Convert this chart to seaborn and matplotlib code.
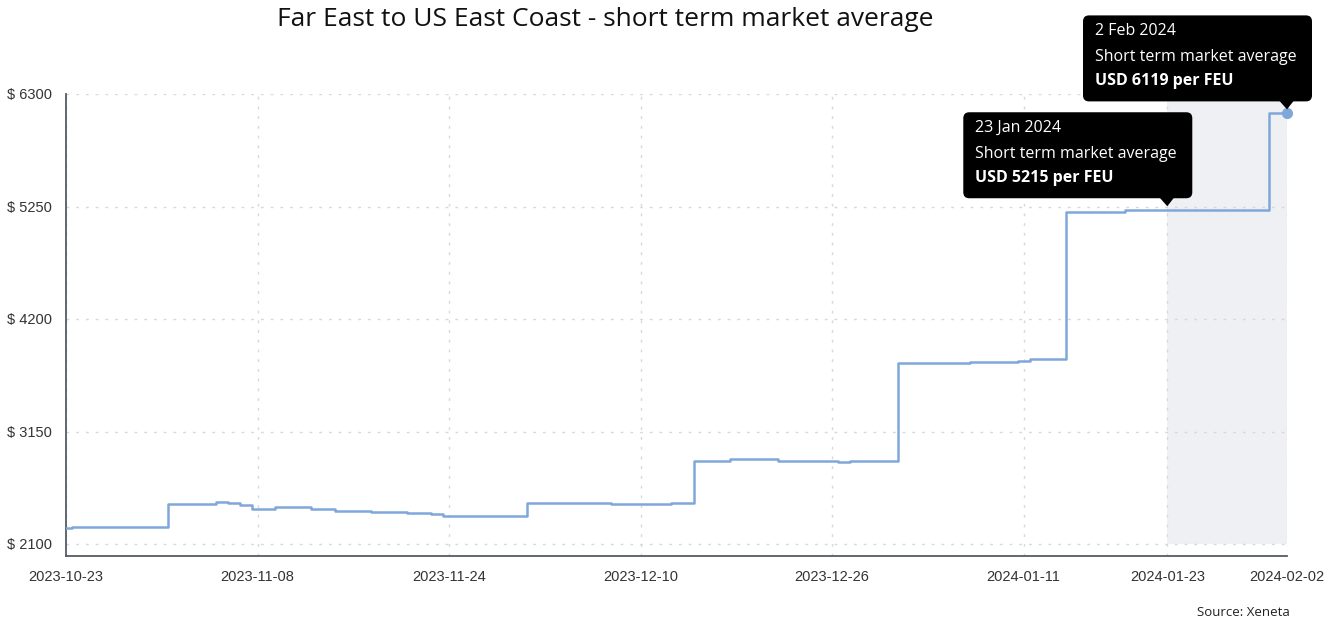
import pandas as pd
import numpy as np
import seaborn as sns
from matplotlib import pyplot as plt
from matplotlib import dates as mdates
from matplotlib import transforms as mtransforms
from matplotlib.patches import FancyBboxPatch, Polygon

# daily short term market average, 2023-10-23 .. 2024-02-02 (USD per FEU)
start_date = "2023-10-23"
end_date = "2024-02-02"
rates = [2250, 2262, 2262, 2262, 2256, 2256, 2256, 2256, 2256,
         2470, 2470, 2470, 2470, 2489, 2480, 2467, 2429, 2429,
         2448, 2448, 2448, 2427, 2427, 2408, 2406, 2404, 2402,
         2399, 2396, 2393, 2386, 2377, 2364, 2358, 2358, 2358,
         2358, 2358, 2358, 2486, 2486, 2486, 2486, 2486, 2480,
         2480, 2473, 2473, 2473, 2473, 2473, 2480, 2480, 2877,
         2877, 2877, 2890, 2890, 2890, 2890, 2877, 2877, 2877,
         2877, 2877, 2862, 2877, 2877, 2877, 2877, 3786, 3792,
         3792, 3792, 3792, 3792, 3799, 3799, 3799, 3799, 3805,
         3824, 3824, 3824, 5200, 5200, 5200, 5200, 5200, 5215,
         5215, 5215, 5215, 5215, 5215, 5215, 5215, 5215, 5215,
         5215, 5215, 6119, 6119]

x_ticks = ["2023-10-23", "2023-11-08", "2023-11-24", "2023-12-10",
           "2023-12-26", "2024-01-11", "2024-01-23", "2024-02-02"]
y_ticks = [2100, 3150, 4200, 5250, 6300]

highlight_start = "2024-01-23"
highlight_end = "2024-02-02"

tooltips = [
    ("2024-01-23", "23 Jan 2024", "Short term market average", "USD 5215 per FEU"),
    ("2024-02-02", "2 Feb 2024", "Short term market average", "USD 6119 per FEU"),
]

df = pd.DataFrame({"date": pd.date_range(start_date, end_date, freq="D"), "rate": rates})

LINE = "#80a7da"
UI_FONT = ["Open Sans", "DejaVu Sans"]
TICK_FONT = ["Liberation Sans", "DejaVu Sans"]

sns.set_style("white")
plt.rcParams["font.family"] = TICK_FONT

fig = plt.figure(figsize=(13.36, 6.2), dpi=100)
ax = fig.add_axes([66 / 1336, 1 - 556 / 620, (1287 - 66) / 1336, (556 - 94) / 620])

ymin, ymax = 1988, 6300
ax.set_ylim(ymin, ymax)
ax.set_xlim(pd.Timestamp(start_date), pd.Timestamp(end_date))

# shaded window behind the line
ax.axvspan(pd.Timestamp(highlight_start), pd.Timestamp(highlight_end),
           ymin=(y_ticks[0] - ymin) / (ymax - ymin), ymax=1,
           color="#eef0f3", zorder=0, lw=0)

sns.lineplot(data=df, x="date", y="rate", ax=ax, color=LINE, linewidth=1.8,
             drawstyle="steps-mid", zorder=3)
ax.plot(df["date"].iloc[-1], df["rate"].iloc[-1], "o", color=LINE, ms=7,
        zorder=4, clip_on=False)

ax.set_xticks(pd.to_datetime(x_ticks))
ax.xaxis.set_major_formatter(mdates.DateFormatter("%Y-%m-%d"))
ax.set_yticks(y_ticks)
ax.set_yticklabels([f"$ {v}" for v in y_ticks])
ax.tick_params(axis="both", labelsize=10.5, colors="#444444", length=5, width=1.2)
ax.tick_params(axis="x", pad=5)
ax.tick_params(axis="y", pad=5)
ax.tick_params(axis="both", labelcolor="#333333")

ax.grid(True, color="#d8d8d8", linestyle=(0, (2, 5)), linewidth=1)
ax.set_axisbelow(True)
ax.set_xlabel("")
ax.set_ylabel("")
sns.despine(ax=ax)
for side in ["left", "bottom"]:
    ax.spines[side].set_color("#555a66")
    ax.spines[side].set_linewidth(1.3)

fig.text(605 / 1336, 1 - 19 / 620, "Far East to US East Coast - short term market average",
         ha="center", va="center", fontsize=19, color="#111111", family=UI_FONT)
fig.text(1290 / 1336, 1 - 612 / 620, "Source: Xeneta", ha="right", va="center",
         fontsize=9.5, color="#222222", family=UI_FONT)

# tooltips, drawn in pixel coordinates anchored on the data point
ident = mtransforms.IdentityTransform()
for day, l1, l2, l3 in tooltips:
    d = pd.Timestamp(day)
    val = df.loc[df["date"] == d, "rate"].iloc[0]
    px, py = ax.transData.transform((mdates.date2num(d), val))
    left, right = px - 204, px + 25
    bottom, top = py + 12, py + 98
    ax.add_patch(FancyBboxPatch((left, bottom), right - left, top - bottom,
                                boxstyle="round,pad=0,rounding_size=6",
                                fc="black", ec="none", transform=ident, zorder=10,
                                clip_on=False))
    ax.add_patch(Polygon([[px - 8, bottom + 1], [px + 7, bottom + 1], [px, py + 4]],
                         closed=True, fc="black", ec="none", transform=ident,
                         zorder=10, clip_on=False))
    tx = left + 12
    fig.text(tx, top - 16, l1, transform=ident, color="white", fontsize=11.5,
             va="center", ha="left", family=UI_FONT, zorder=11)
    fig.text(tx, top - 42, l2, transform=ident, color="white", fontsize=11.5,
             va="center", ha="left", family=UI_FONT, zorder=11)
    fig.text(tx, top - 66, l3, transform=ident, color="white", fontsize=11.5,
             va="center", ha="left", family=UI_FONT, fontweight="bold", zorder=11)

fig.savefig("out.png", dpi=100)
